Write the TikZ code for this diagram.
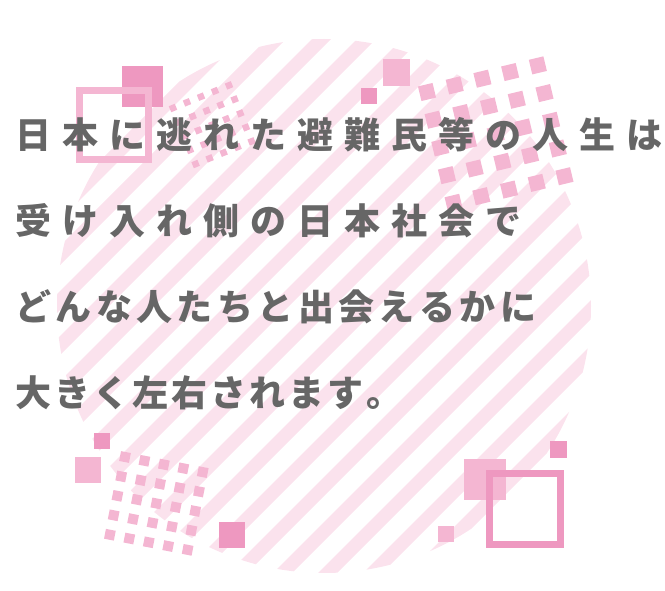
\documentclass[tikz,border=0pt]{standalone}
\usepackage{fontspec}
\newfontfamily\jpfont{Noto Sans CJK JP}
\usetikzlibrary{positioning}
\definecolor{stripepink}{RGB}{251,226,237}
\definecolor{dotpink}{RGB}{244,182,210}
\definecolor{deeppink}{RGB}{238,152,192}
\definecolor{inkgray}{RGB}{102,102,102}
% every character in a box of fixed width
\newcommand{\pitched}[2]{\def\pitchwd{#1}\pitchloop#2\relax}
\def\pitchloop#1{\ifx#1\relax\else\makebox[\pitchwd][l]{#1}\expandafter\pitchloop\fi}
\tikzset{
  every picture/.style={line width=0.8pt},
  node distance=49pt,
  textline/.style={font=\jpfont\bfseries\fontsize{36}{36}\selectfont, text=inkgray, inner sep=0pt, text height=32pt, text depth=4pt},
  stripe/.style={fill=stripepink},
  dotbox/.style={fill=dotpink},
  darkbox/.style={fill=deeppink},
  lightbox/.style={fill=dotpink},
  framebox/.style={draw, line width=7pt}
}

\begin{document}
\begin{tikzpicture}[x=1pt, y=-1pt]
    \useasboundingbox (0,0) rectangle (665,591);
    % striped disc
    \begin{scope}
      \clip (324,306) circle (267pt);
      \foreach \k in {4,...,22}
        \fill[stripe] ({36+45*\k},0) -- ({55+45*\k},0) -- ({55+45*\k-700},700) -- ({36+45*\k-700},700) -- cycle;
    \end{scope}

    % top left
    \fill[darkbox] (122,66) rectangle (163,107);
    \draw[framebox, dotpink] (79.5,90.5) rectangle (148.5,159.5);
    \begin{scope}[shift={(173,108)}, rotate=22]
      \foreach \i in {0,...,4}
        \foreach \j in {0,...,4}
          \fill[dotbox] ({\i*15.1-3.25},{\j*15.1-3.25}) rectangle ++(6.5,6.5);
    \end{scope}

    % top right
    \fill[lightbox] (383,59) rectangle (410,86);
    \fill[darkbox] (361,88) rectangle (377,104);
    \begin{scope}[shift={(427,92)}, rotate=13.5]
      \foreach \i in {0,...,4}
        \foreach \j in {0,...,4}
          \fill[dotbox] ({\i*28.5-7.5},{\j*28.5-7.5}) rectangle ++(15,15);
    \end{scope}

    % bottom left
    \fill[darkbox] (94,433) rectangle (110,449);
    \fill[lightbox] (75,457) rectangle (101,483);
    \fill[darkbox] (219,522) rectangle (245,548);
    \begin{scope}[shift={(125,457)}, rotate=-11]
      \foreach \i in {0,...,4}
        \foreach \j in {0,...,4}
          \fill[dotbox] ({\i*19.8-5},{\j*19.8-5}) rectangle ++(10,10);
    \end{scope}

    % bottom right
    \fill[lightbox] (464,459) rectangle (506,500);
    \fill[darkbox] (550,441) rectangle (567,458);
    \fill[lightbox] (438,526) rectangle (454,542);
    \draw[framebox, deeppink] (489.5,473.5) rectangle (560.5,544.5);

    % text
    \node[textline, anchor=west] (line1) at (15,135) {\pitched{47pt}{日本に逃れた避難民等の人生は}};
    \node[textline, below=of line1.south west, anchor=north west] (line2) {\pitched{47pt}{受け入れ側の日本社会で}};
    \node[textline, below=of line2.south west, anchor=north west] (line3) {\pitched{40.4pt}{どんな人たちと出会えるかに}};
    \node[textline, below=of line3.south west, anchor=north west] (line4) {\pitched{39pt}{大きく左右されます。}};
\end{tikzpicture}
\end{document}
